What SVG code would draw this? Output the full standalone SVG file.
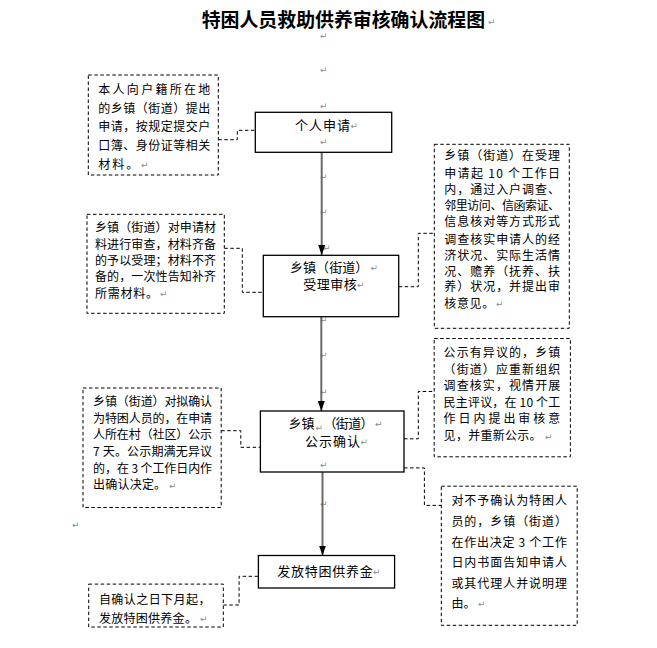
<svg xmlns="http://www.w3.org/2000/svg" width="657" height="648" viewBox="0 0 657 648">
<defs>
<marker id="ah" markerUnits="userSpaceOnUse" markerWidth="10" markerHeight="8" viewBox="0 0 10 8" refX="10" refY="4" orient="auto">
<path d="M0,0.5 L10,4 L0,7.5 Z" fill="#000"/>
</marker>
</defs>
<style>
.t{font-family:"Noto Sans CJK SC","Noto Sans CJK JP",sans-serif;font-size:12px;fill:#000}
.m{font-family:"Noto Sans CJK SC","Noto Sans CJK JP",sans-serif;font-size:13px;fill:#000}
.title{font-family:"Noto Sans CJK SC","Noto Sans CJK JP",sans-serif;font-size:18.9px;font-weight:700;fill:#000}
.pm{font-family:"DejaVu Sans",sans-serif;font-size:9px;fill:#8a8a8a}
.box{fill:#fff;stroke:#000;stroke-width:1.3}
.dbox{fill:#fff;stroke:#000;stroke-width:1;stroke-dasharray:3.5,2.5}
.dl{fill:none;stroke:#000;stroke-width:1;stroke-dasharray:3.5,2.5}
.arr{fill:none;stroke:#6a6a6a;stroke-width:2;marker-end:url(#ah)}
</style>
<rect width="657" height="648" fill="#fff"/>

<g id="title">
<text class="title" x="201.7" y="27.2">特困人员救助供养审核确认流程图</text>
<text class="pm" x="488" y="25">↵</text>
</g>

<g id="marks">
<text class="pm" x="320" y="39">↵</text>
<text class="pm" x="320" y="73">↵</text>
<text class="pm" x="320" y="109">↵</text>
<text class="pm" x="320" y="180">↵</text>
<text class="pm" x="320" y="215">↵</text>
<text class="pm" x="323" y="251">↵</text>
<text class="pm" x="320" y="323">↵</text>
<text class="pm" x="320" y="358">↵</text>
<text class="pm" x="320" y="395">↵</text>
<text class="pm" x="320" y="507">↵</text>
<text class="pm" x="72" y="528">↵</text>
</g>

<g id="connectors">
<line class="arr" x1="321.7" y1="152.3" x2="321.7" y2="255"/>
<line class="arr" x1="321.3" y1="316.7" x2="321.3" y2="411"/>
<line class="arr" x1="322.5" y1="472" x2="322.5" y2="555.5"/>
<path class="dl" d="M218.3,139.7 H237.3 V130.3 H255.3"/>
<path class="dl" d="M224.3,248.3 H242.3 V292.3 H263.3"/>
<path class="dl" d="M398.7,286.7 H418.3 V233.3 H434.3"/>
<path class="dl" d="M221.2,430.7 H240.8 V447.3 H260.4"/>
<path class="dl" d="M404,438.8 H418.3 V391.5 H434.2"/>
<path class="dl" d="M404,467.9 H424.4 V505.4 H441.3"/>
<path class="dl" d="M223.3,605 H239.1 V576.3 H258.4"/>
</g>

<g id="n1">
<rect class="box" x="255.3" y="112.3" width="136.4" height="40"/>
<text class="m" x="295" y="130" textLength="55" lengthAdjust="spacing">个人申请</text>
<text class="pm" x="350.5" y="129">↵</text>
<text class="pm" x="320" y="145">↵</text>
</g>

<g id="n2">
<rect class="box" x="263.3" y="255.3" width="135.4" height="61.4"/>
<text class="m" x="290" y="272.2" textLength="78.3" lengthAdjust="spacing">乡镇（街道）</text>
<text class="pm" x="370.5" y="271">↵</text>
<text class="m" x="303.3" y="289.4" textLength="53.4" lengthAdjust="spacing">受理审核</text>
<text class="pm" x="357" y="288">↵</text>
</g>

<g id="n3">
<rect class="box" x="260.4" y="411" width="143.6" height="61"/>
<text class="m" x="288.5" y="428.2">乡镇</text>
<text class="pm" x="315.5" y="431">↵</text>
<text class="m" x="323.5" y="428.2" textLength="50" lengthAdjust="spacing">（街道）</text>
<text class="pm" x="375" y="427">↵</text>
<text class="m" x="305" y="446.3" textLength="55" lengthAdjust="spacing">公示确认</text>
<text class="pm" x="360.5" y="445">↵</text>
<text class="pm" x="320" y="468">↵</text>
</g>

<g id="n4">
<rect class="box" x="258.4" y="555.5" width="136.2" height="32.5"/>
<text class="m" x="277.3" y="575.6" textLength="95.4" lengthAdjust="spacing">发放特困供养金</text>
<text class="pm" x="373" y="574.5">↵</text>
</g>

<g id="d1">
<rect class="dbox" x="88.3" y="75" width="130" height="100"/>
<text class="t" x="98.3" y="94.1" textLength="112" lengthAdjust="spacing">本人向户籍所在地</text>
<text class="t" x="98.3" y="112.6" textLength="112" lengthAdjust="spacing">的乡镇（街道）提出</text>
<text class="t" x="98.3" y="131.3" textLength="112" lengthAdjust="spacing">申请，按规定提交户</text>
<text class="t" x="98.3" y="150" textLength="112" lengthAdjust="spacing">口簿、身份证等相关</text>
<text class="t" x="98.3" y="168.6" textLength="40" lengthAdjust="spacing">材料。</text>
<text class="pm" x="141" y="167.5">↵</text>
</g>

<g id="d2">
<rect class="dbox" x="87" y="214.3" width="137.3" height="99"/>
<text class="t" x="95" y="231.9" textLength="121" lengthAdjust="spacing">乡镇（街道）对申请材</text>
<text class="t" x="95" y="248.6" textLength="121" lengthAdjust="spacing">料进行审查，材料齐备</text>
<text class="t" x="95" y="265.3" textLength="121" lengthAdjust="spacing">的予以受理；材料不齐</text>
<text class="t" x="95" y="281.3" textLength="121" lengthAdjust="spacing">备的，一次性告知补齐</text>
<text class="t" x="95" y="297.9" textLength="63" lengthAdjust="spacing">所需材料。</text>
<text class="pm" x="160" y="297">↵</text>
</g>

<g id="d3">
<rect class="dbox" x="434.3" y="144.3" width="135" height="184"/>
<text class="t" x="444.3" y="160.3" textLength="115.7" lengthAdjust="spacing">乡镇（街道）在受理</text>
<text class="t" x="444.3" y="177.9" textLength="115.7" lengthAdjust="spacing">申请起 10 个工作日</text>
<text class="t" x="444.3" y="193.9" textLength="115.7" lengthAdjust="spacing">内，通过入户调查、</text>
<text class="t" x="444.3" y="210.3" textLength="115.7" lengthAdjust="spacing">邻里访问、信函索证、</text>
<text class="t" x="444.3" y="226.3" textLength="115.7" lengthAdjust="spacing">信息核对等方式形式</text>
<text class="t" x="444.3" y="243.6" textLength="115.7" lengthAdjust="spacing">调查核实申请人的经</text>
<text class="t" x="444.3" y="259.6" textLength="115.7" lengthAdjust="spacing">济状况、实际生活情</text>
<text class="t" x="444.3" y="275.6" textLength="115.7" lengthAdjust="spacing">况、赡养（抚养、扶</text>
<text class="t" x="444.3" y="291.3" textLength="115.7" lengthAdjust="spacing">养）状况，并提出审</text>
<text class="t" x="444.3" y="307.9" textLength="50" lengthAdjust="spacing">核意见。</text>
<text class="pm" x="496" y="307">↵</text>
</g>

<g id="d4">
<rect class="dbox" x="83" y="388" width="138.2" height="119.5"/>
<text class="t" x="93.1" y="405.6" textLength="119" lengthAdjust="spacing">乡镇（街道）对拟确认</text>
<text class="t" x="93.1" y="422.5" textLength="119" lengthAdjust="spacing">为特困人员的，在申请</text>
<text class="t" x="93.1" y="439.4" textLength="119" lengthAdjust="spacing">人所在村（社区）公示</text>
<text class="t" x="93.1" y="456.3" textLength="119" lengthAdjust="spacing">7 天。公示期满无异议</text>
<text class="t" x="93.1" y="473.2" textLength="119" lengthAdjust="spacing">的，在 3 个工作日内作</text>
<text class="t" x="93.1" y="489.4" textLength="73" lengthAdjust="spacing">出确认决定。</text>
<text class="pm" x="169" y="488.5">↵</text>
</g>

<g id="d5">
<rect class="dbox" x="434.2" y="338.5" width="136.2" height="118.3"/>
<text class="t" x="443.6" y="357.2" textLength="116.7" lengthAdjust="spacing">公示有异议的，乡镇</text>
<text class="t" x="443.6" y="373.5" textLength="116.7" lengthAdjust="spacing">（街道）应重新组织</text>
<text class="t" x="443.6" y="390.4" textLength="116.7" lengthAdjust="spacing">调查核实，视情开展</text>
<text class="t" x="443.6" y="406.6" textLength="116.7" lengthAdjust="spacing">民主评议，在 10 个工</text>
<text class="t" x="443.6" y="423.2" textLength="116.7" lengthAdjust="spacing">作日内提出审核意</text>
<text class="t" x="443.6" y="440.4" textLength="98" lengthAdjust="spacing">见，并重新公示。</text>
<text class="pm" x="545" y="439.5">↵</text>
</g>

<g id="d6">
<rect class="dbox" x="441.3" y="486.2" width="135.9" height="139.1"/>
<text class="t" x="451.4" y="504.9" textLength="115.6" lengthAdjust="spacing">对不予确认为特困人</text>
<text class="t" x="451.4" y="526.2" textLength="115.6" lengthAdjust="spacing">员的，乡镇（街道）</text>
<text class="t" x="451.4" y="546.5" textLength="115.6" lengthAdjust="spacing">在作出决定 3 个工作</text>
<text class="t" x="451.4" y="566.7" textLength="115.6" lengthAdjust="spacing">日内书面告知申请人</text>
<text class="t" x="451.4" y="587.7" textLength="115.6" lengthAdjust="spacing">或其代理人并说明理</text>
<text class="t" x="451.4" y="608" textLength="24" lengthAdjust="spacing">由。</text>
<text class="pm" x="478" y="607">↵</text>
</g>

<g id="d7">
<rect class="dbox" x="88.7" y="584.1" width="134.6" height="42.9"/>
<text class="t" x="98.9" y="603.6" textLength="111.5" lengthAdjust="spacing">自确认之日下月起，</text>
<text class="t" x="98.9" y="622.5" textLength="98" lengthAdjust="spacing">发放特困供养金。</text>
<text class="pm" x="200" y="621.5">↵</text>
</g>
</svg>
